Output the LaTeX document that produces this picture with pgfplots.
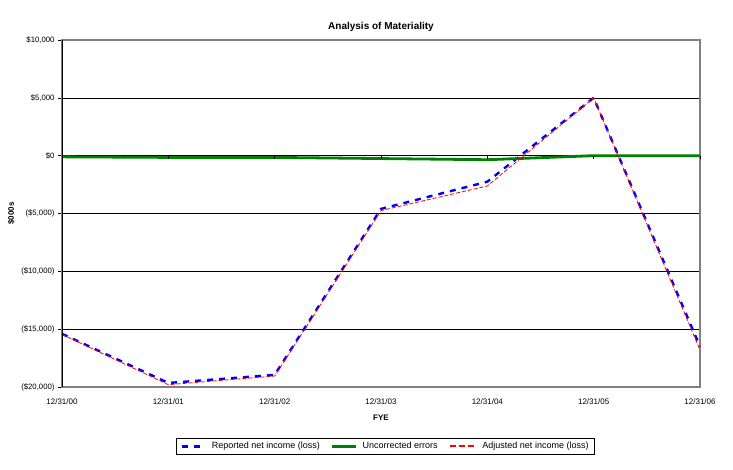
\documentclass[border=0pt]{standalone}
\usepackage{fontspec}
\setmainfont{Liberation Sans}
\usepackage{pgfplots}
\pgfplotsset{compat=1.18}
\definecolor{exgreen}{RGB}{0,128,0}
\definecolor{exframe}{RGB}{128,128,128}
\begin{document}
\begin{tikzpicture}[x=1pt,y=1pt]
\useasboundingbox (0,0) rectangle (733,-469);
\begin{axis}[
  at={(62pt,-387pt)}, anchor=south west,
  scale only axis, width=638pt, height=347pt,
  xmin=0, xmax=6, ymin=-20000, ymax=10000,
  scaled y ticks=false,
  xtick={0,...,6},
  xticklabels={12/31/00,12/31/01,12/31/02,12/31/03,12/31/04,12/31/05,12/31/06},
  ytick={-20000,-15000,-10000,-5000,0,5000,10000},
  yticklabels={{(\$20,000)},{(\$15,000)},{(\$10,000)},{(\$5,000)},{\$0},{\$5,000},{\$10,000}},
  ytick pos=left,
  /pgf/number format/assume math mode=true,
  tick label style={font=\fontsize{8}{9.5}\selectfont},
  yticklabel style={font=\fontsize{7.75}{9}\selectfont},
  ymajorgrids, grid style={black, line width=0.6pt},
  axis line style={exframe, line width=1.3pt},
  xtick style={draw=none},
  ytick style={black, line width=0.6pt},
  tick align=outside, major tick length=4pt,
  xticklabel style={yshift=-4pt},
  title={\bfseries Analysis of Materiality},
  title style={font=\fontsize{10}{12}\selectfont\bfseries, yshift=-1pt},
  xlabel={\bfseries FYE}, ylabel={\bfseries \$000s},
  label style={font=\fontsize{8}{9.5}\selectfont\bfseries},
  xlabel style={yshift=-4pt},
  legend style={at={(0.507,-0.147)}, anchor=north, legend columns=3,
    font=\fontsize{9}{11}\selectfont, draw=black, line width=0.6pt,
    inner xsep=4pt, inner ysep=2pt,
    /tikz/every odd column/.append style={column sep=3pt},
    /tikz/every even column/.append style={column sep=9pt}},
  legend image code/.code={\draw[#1] (0pt,0pt) -- (24pt,0pt);},
  legend cell align=left,
  clip=false,
]
\addplot[draw=blue, line width=2.4pt, dash pattern=on 6pt off 6pt] coordinates {
(0,-15400) (1,-19650) (2,-18950) (3,-4600) (4,-2250) (5,5000) (6,-16500)};
\addlegendentry{Reported net income (loss)}
\addplot[draw=exgreen, line width=2.8pt] coordinates {
(0,-100) (1,-150) (2,-150) (3,-250) (4,-350) (5,0) (6,0)};
\addlegendentry{Uncorrected errors}
\addplot[draw=red, line width=0.8pt, dash pattern=on 4pt off 2pt,
  legend image code/.code={\draw[draw=red, line width=1.8pt, dash pattern=on 6pt off 3pt] (0pt,0pt) -- (27pt,0pt);}] coordinates {
(0,-15450) (1,-19800) (2,-19050) (3,-4750) (4,-2620) (5,5000) (6,-16800)};
\addlegendentry{Adjusted net income (loss)}
\draw[black, line width=0.8pt] (rel axis cs:0,0) -- (rel axis cs:0,1);
\pgfplotsinvokeforeach{1,...,6}{
  \draw[black, line width=0.6pt] (axis cs:#1,0) -- ([yshift=-3pt]axis cs:#1,0);
}
\end{axis}
\end{tikzpicture}
\end{document}
